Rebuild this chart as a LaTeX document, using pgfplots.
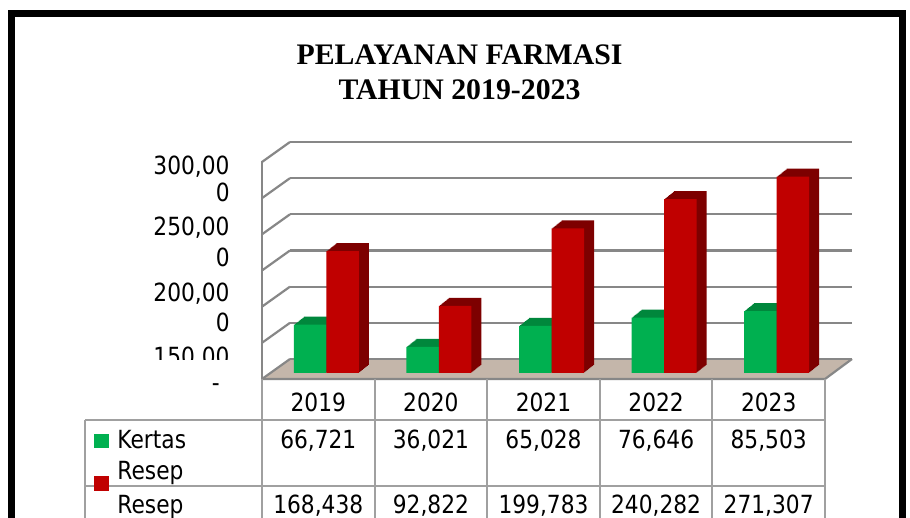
\documentclass[border=0pt]{standalone}
\usepackage{fontspec}
\usepackage{pgfplots}
\usepackage{pgfplotstable}
\pgfplotsset{compat=1.18}
\newfontfamily\tfont{DejaVu Sans}[FakeStretch=0.87]
\newfontfamily\titlefont{Liberation Serif}
\definecolor{xgreen}{RGB}{0,176,80}
\definecolor{xred}{RGB}{192,0,0}
\definecolor{dgreen}{RGB}{0,135,60}
\definecolor{dred}{RGB}{125,0,0}
\definecolor{floorc}{RGB}{196,182,170}
\definecolor{gridc}{RGB}{135,135,135}
\definecolor{tabc}{RGB}{160,160,160}

\pgfplotstableread{
x kertas resep
0.5 66721 168438
1.5 36021 92822
2.5 65028 199783
3.5 76646 240282
4.5 85503 271307
}\data

\begin{document}
\begin{tikzpicture}[x=0.5pt,y=0.5pt]
\useasboundingbox (0,0) rectangle (910,518);
\clip (0,0) rectangle (910,518);
\fill[white] (0,0) rectangle (910,518);
% border
\draw[black, line width=3.5pt] (11.5,504.5) rectangle (902.5,-30);
% title
\node[anchor=base, font=\titlefont\bfseries\fontsize{14.9pt}{17pt}\selectfont, inner sep=0pt] at (459.5,453) {PELAYANAN FARMASI};
\node[anchor=base, font=\titlefont\bfseries\fontsize{14.9pt}{17pt}\selectfont, inner sep=0pt] at (459.5,418) {TAHUN 2019-2023};
% floor
\fill[floorc] (262,139) -- (825,139) -- (852,159) -- (290,159) -- cycle;
% back wall grid
\begin{axis}[at={(145pt,79.5pt)}, anchor=south west, scale only axis,
  width=281pt, height=108.5pt, xmin=0, xmax=1, ymin=0, ymax=300000,
  xtick=\empty, ytick={0,50000,100000,150000,200000,250000,300000},
  yticklabels={}, scaled y ticks=false, ymajorgrids, grid style={gridc, line width=1.1pt},
  axis line style={draw=none}, major tick length=0pt]
\end{axis}
% left wall
\foreach \k in {0,...,6} {
  \draw[gridc, line width=1.1pt] (262,{139+36.17*\k}) -- (290,{159+36.17*\k});
}
\draw[gridc, line width=1.1pt] (262,139) -- (262,356.5);
\draw[gridc, line width=1.1pt] (262,139) -- (825,139) -- (852,159);
% bars
\begin{axis}[at={(135pt,72.5pt)}, anchor=south west, scale only axis,
  width=281.5pt, height=108.5pt, xmin=0, xmax=5, ymin=0, ymax=300000,
  hide axis, clip=false]
\pgfplotsinvokeforeach{10,9,...,1}{
 \addplot[ybar, bar width=16.25pt, bar shift=-8.125pt, fill=dgreen, draw=none,
   xshift=#1*0.5pt, yshift=#1*0.4pt] table[x=x,y=kertas]{\data};
 \addplot[ybar, bar width=16.25pt, bar shift=8.125pt, fill=dred, draw=none,
   xshift=#1*0.5pt, yshift=#1*0.4pt] table[x=x,y=resep]{\data};
}
\addplot[ybar, bar width=16.25pt, bar shift=-8.125pt, fill=xgreen, draw=none] table[x=x,y=kertas]{\data};
\addplot[ybar, bar width=16.25pt, bar shift=8.125pt, fill=xred, draw=none] table[x=x,y=resep]{\data};
\end{axis}
% y labels
\begin{scope}[font=\tfont\fontsize{12.5pt}{15pt}\selectfont]
\node[anchor=base east, inner sep=0pt] at (230,343) {300,00};
\node[anchor=base east, inner sep=0pt] at (230,316) {0};
\node[anchor=base east, inner sep=0pt] at (230,282) {250,00};
\node[anchor=base east, inner sep=0pt] at (230,251.3) {0};
\node[anchor=base east, inner sep=0pt] at (230,216.3) {200,00};
\node[anchor=base east, inner sep=0pt] at (230,186.3) {0};
\begin{scope}
\clip (140,158) rectangle (240,200);
\node[anchor=base east, inner sep=0pt] at (230,152.4) {150,00};
\end{scope}
\node[anchor=base east, inner sep=0pt] at (220,126.5) {-};
\end{scope}
% table lines
\draw[tabc, line width=1pt] (85,98) -- (825,98);
\draw[tabc, line width=1pt] (85,31.5) -- (825,31.5);
\draw[tabc, line width=1pt] (85,98) -- (85,-10);
\foreach \i in {0,...,5} {
  \draw[tabc, line width=1pt] ({262+112.6*\i},139) -- ({262+112.6*\i},-10);
}
% legend keys
\fill[xgreen] (94,70) rectangle (109,84);
\fill[xred] (94,27) rectangle (109,42);
% table text
\begin{scope}[font=\tfont\fontsize{12.5pt}{15pt}\selectfont]
\node[anchor=base west, inner sep=0pt] at (117,69) {Kertas};
\node[anchor=base west, inner sep=0pt] at (117,38) {Resep};
\node[anchor=base west, inner sep=0pt] at (117,4) {Resep};
\foreach \yr/\a/\b [count=\i from 0] in {2019/{66,721}/{168,438}, 2020/{36,021}/{92,822}, 2021/{65,028}/{199,783}, 2022/{76,646}/{240,282}, 2023/{85,503}/{271,307}} {
  \node[anchor=base, inner sep=0pt] at ({318.3+112.6*\i},106) {\yr};
  \node[anchor=base, inner sep=0pt] at ({318.3+112.6*\i},69) {\a};
  \node[anchor=base, inner sep=0pt] at ({318.3+112.6*\i},4) {\b};
}
\end{scope}
\end{tikzpicture}
\end{document}
